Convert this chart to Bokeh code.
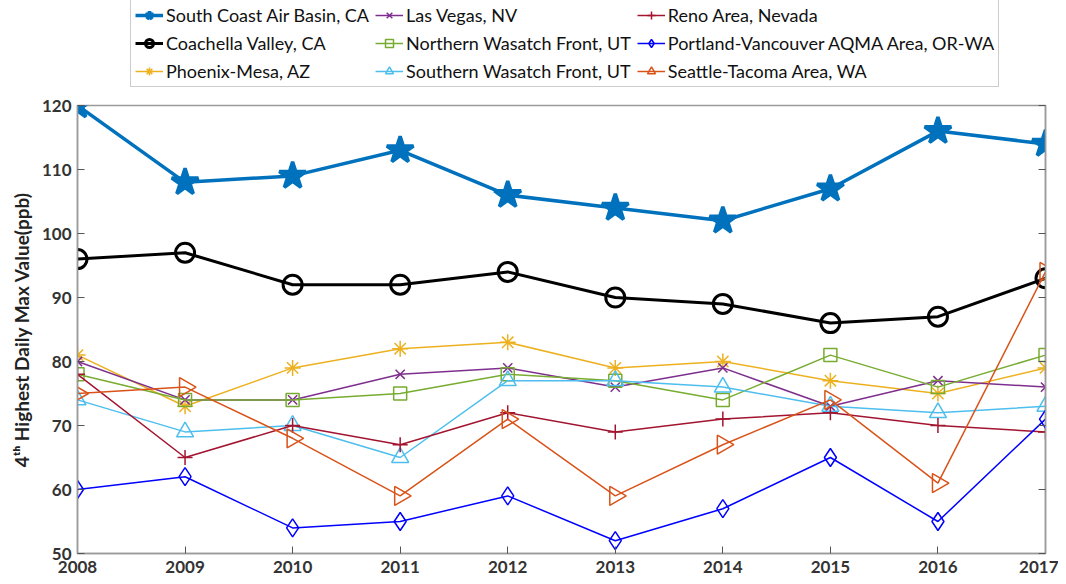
import math
from bokeh.plotting import figure
from bokeh.layouts import column
from bokeh.models import Legend, LegendItem, LinearAxis, Range1d, FixedTicker
from bokeh.embed import file_html
from bokeh.resources import INLINE

years = [2008, 2009, 2010, 2011, 2012, 2013, 2014, 2015, 2016, 2017]
south_coast = [120, 108, 109, 113, 106, 104, 102, 107, 116, 114]
coachella = [96, 97, 92, 92, 94, 90, 89, 86, 87, 93]
phoenix = [81, 73, 79, 82, 83, 79, 80, 77, 75, 79]
las_vegas = [80, 74, 74, 78, 79, 76, 79, 73, 77, 76]
n_wasatch = [78, 74, 74, 75, 78, 77, 74, 81, 76, 81]
s_wasatch = [74, 69, 70, 65, 77, 77, 76, 73, 72, 73]
reno = [78, 65, 70, 67, 72, 69, 71, 72, 70, 69]
portland = [60, 62, 54, 55, 59, 52, 57, 65, 55, 71]
seattle = [75, 76, 68, 59, 71, 59, 67, 74, 61, 94]

names = ["South Coast Air Basin, CA", "Coachella Valley, CA", "Phoenix-Mesa, AZ",
         "Las Vegas, NV", "Northern Wasatch Front, UT", "Southern Wasatch Front, UT",
         "Reno Area, Nevada", "Portland-Vancouver AQMA Area, OR-WA", "Seattle-Tacoma Area, WA"]
series = [south_coast, coachella, phoenix, las_vegas, n_wasatch, s_wasatch, reno, portland, seattle]
colors = ["#0072BD", "#000000", "#EDB120", "#7E2F8E", "#77AC30", "#4DBEEE", "#A2142F", "#0000FF", "#D95319"]
markers = ["star", "circle", "asterisk", "x", "square", "triangle", "cross", "diamond", "triangle"]
angles = [0, 0, 0, 0, 0, 0, 0, 0, -math.pi / 2]
sizes = [28, 19, 16, 13, 13, 17, 15, 18, 19]
lws = [3.5, 3, 1.5, 1.5, 1.5, 1.5, 1.5, 1.5, 1.5]
fills = [True, False, False, False, False, False, False, False, False]

W = 1058
LH = 95
H = 582

p = figure(width=W, height=H - LH, output_backend="svg", toolbar_location=None,
           x_range=Range1d(2008, 2017), y_range=Range1d(50, 120),
           min_border_left=77, min_border_right=13, min_border_bottom=29, min_border_top=10)
p.outline_line_color = "#9a9a9a"
p.outline_line_width = 1.5
p.xgrid.visible = False
p.ygrid.visible = False

lg = figure(width=W, height=LH, output_backend="svg", toolbar_location=None,
            x_range=Range1d(0, 1), y_range=Range1d(0, 1),
            x_axis_location=None, y_axis_location=None, min_border=0)
lg.outline_line_color = None
lg.xgrid.visible = False
lg.ygrid.visible = False

items = []
for name, ys, c, m, a, s, lw, f in zip(names, series, colors, markers, angles, sizes, lws, fills):
    mlw = lw if lw > 2 else 1.5
    fc = c if f else "white"
    fa = 1.0 if f else 0.0
    p.line(years, ys, line_color=c, line_width=lw)
    p.scatter(years, ys, marker=m, angle=a, size=s, line_color=c, line_width=mlw,
              fill_color=fc, fill_alpha=fa)
    # legend proxies in the legend strip (their data lies outside its visible range)
    l1 = lg.line(years, ys, line_color=c, line_width=lw)
    l2 = lg.scatter(years, ys, marker=m, angle=a, size=s, line_color=c, line_width=mlw,
                    fill_color=fc, fill_alpha=fa)
    items.append(LegendItem(label=name, renderers=[l1, l2]))

for ax in (p.xaxis[0], p.yaxis[0]):
    ax.major_tick_in = 7
    ax.major_tick_out = 0
    ax.minor_tick_in = 0
    ax.minor_tick_out = 0
    ax.axis_line_color = "#9a9a9a"
    ax.axis_line_width = 1.5
    ax.major_tick_line_color = "#555555"
    ax.major_label_text_font = "Lato"
    ax.major_label_text_font_style = "bold"
    ax.major_label_text_font_size = "17px"
    ax.major_label_text_color = "#333333"

p.xaxis[0].ticker = FixedTicker(ticks=years)
p.xaxis[0].major_label_standoff = 7
p.yaxis[0].ticker = FixedTicker(ticks=[50, 60, 70, 80, 90, 100, 110, 120])
p.yaxis[0].major_label_standoff = 6
p.yaxis[0].axis_label = "4ᵗʰ Highest Daily Max Value(ppb)"
p.yaxis[0].axis_label_text_font = "Lato"
p.yaxis[0].axis_label_text_font_style = "bold"
p.yaxis[0].axis_label_text_font_size = "19px"
p.yaxis[0].axis_label_text_color = "#222222"
p.yaxis[0].axis_label_standoff = 6

right = LinearAxis(ticker=FixedTicker(ticks=[50, 60, 70, 80, 90, 100, 110, 120]),
                   major_tick_in=7, major_tick_out=0, minor_tick_in=0, minor_tick_out=0,
                   major_label_text_alpha=0, axis_line_color="#9a9a9a",
                   major_tick_line_color="#555555", axis_line_width=1.5)
p.add_layout(right, "right")

legend = Legend(items=items, ncols=3, location=(53, 8),
                label_text_font="Lato", label_text_font_size="18px",
                label_text_color="#111111", glyph_width=28, glyph_height=20,
                label_height=20, spacing=6, padding=4, margin=0,
                border_line_color="#9a9a9a", border_line_width=1.5,
                label_standoff=3)
lg.add_layout(legend, "center")

layout = column(lg, p, spacing=0)
open("out.html", "w").write(file_html(layout, INLINE))
